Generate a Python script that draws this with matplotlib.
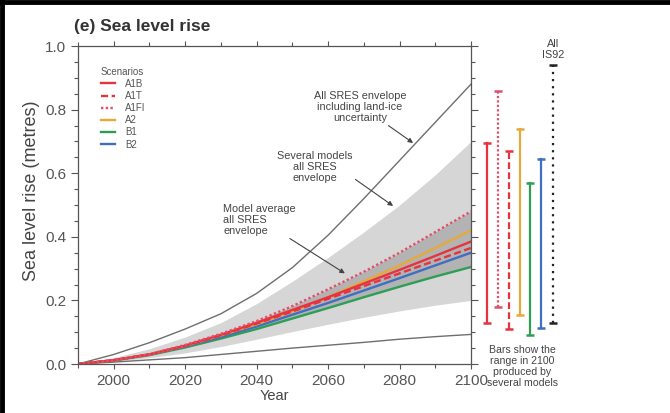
import matplotlib
matplotlib.use("Agg")
import matplotlib.pyplot as plt
from matplotlib.lines import Line2D

plt.rcParams['font.family'] = ['Liberation Sans', 'DejaVu Sans']

# decade years
years = [1990, 2000, 2010, 2020, 2030, 2040, 2050, 2060, 2070, 2080, 2090, 2100]

# envelopes (metres)
landice_hi = [0, 0.03, 0.067, 0.11, 0.158, 0.222, 0.303, 0.405, 0.52, 0.64, 0.76, 0.88]
landice_lo = [0, 0.006, 0.013, 0.02, 0.03, 0.04, 0.05, 0.059, 0.068, 0.078, 0.086, 0.093]
several_hi = [0, 0.02, 0.048, 0.085, 0.13, 0.19, 0.26, 0.335, 0.415, 0.50, 0.595, 0.70]
several_lo = [0, 0.008, 0.02, 0.035, 0.055, 0.078, 0.102, 0.125, 0.147, 0.167, 0.185, 0.20]

# scenario model averages
scen_names = ['A1B', 'A1T', 'A1FI', 'A2', 'B1', 'B2']
A1B = [0, 0.012, 0.03, 0.058, 0.092, 0.13, 0.17, 0.21, 0.253, 0.296, 0.34, 0.385]
A1T = [0, 0.012, 0.03, 0.057, 0.09, 0.127, 0.165, 0.205, 0.245, 0.285, 0.325, 0.365]
A1FI = [0, 0.012, 0.031, 0.06, 0.095, 0.135, 0.182, 0.235, 0.29, 0.35, 0.415, 0.48]
A2 = [0, 0.012, 0.03, 0.057, 0.09, 0.125, 0.165, 0.21, 0.26, 0.31, 0.365, 0.42]
B1 = [0, 0.011, 0.028, 0.052, 0.08, 0.11, 0.143, 0.176, 0.21, 0.243, 0.275, 0.305]
B2 = [0, 0.012, 0.03, 0.055, 0.085, 0.118, 0.155, 0.192, 0.231, 0.27, 0.31, 0.35]

# ranges in 2100 (several models)
bar_names = ['A1B', 'A1FI', 'A1T', 'A2', 'B1', 'B2', 'IS92']
bar_lo = [0.13, 0.18, 0.11, 0.155, 0.09, 0.113, 0.13]
bar_hi = [0.695, 0.86, 0.67, 0.74, 0.57, 0.645, 0.94]

red = '#e8323e'
cols = {'A1B': red, 'A1T': red, 'A1FI': '#e0506a', 'A2': '#e6a93a',
        'B1': '#2f9e55', 'B2': '#3e6fc2', 'IS92': '#222222'}
styles = {'A1B': '-', 'A1T': (0, (3, 1.5)), 'A1FI': (0, (1, 1)), 'A2': '-',
          'B1': '-', 'B2': '-', 'IS92': (0, (1, 2.2))}

fig = plt.figure(figsize=(6.7, 4.13), dpi=100)
ax = fig.add_axes([78/670, 1-364/413, 393/670, 318/413])

ax.fill_between(years, several_lo, several_hi, color='#d6d6d6', lw=0)
ax.fill_between(years, B1, A1FI, color='#b3b3b3', lw=0)
ax.plot(years, landice_hi, color='#6e6e6e', lw=1.0)
ax.plot(years, landice_lo, color='#6e6e6e', lw=1.0)

series = {'A1B': A1B, 'A1T': A1T, 'A1FI': A1FI, 'A2': A2, 'B1': B1, 'B2': B2}
for name in ['B1', 'B2', 'A2', 'A1T', 'A1B', 'A1FI']:
    ax.plot(years, series[name], color=cols[name], ls=styles[name], lw=1.7)

ax.set_xlim(1990, 2100)
ax.set_ylim(0, 1.0)
ax.set_xticks(range(2000, 2101, 20))
ax.set_xticks(range(1990, 2101, 10), minor=True)
ax.set_yticks([0, 0.2, 0.4, 0.6, 0.8, 1.0])
ax.set_yticklabels(['0.0', '0.2', '0.4', '0.6', '0.8', '1.0'])
ax.set_yticks([i * 0.05 for i in range(21)], minor=True)
ax.tick_params(which='both', direction='out', top=True, right=True,
               colors='#555555', labelsize=11, width=0.8)
ax.tick_params(which='major', length=5)
ax.tick_params(which='minor', length=3)
ax.tick_params(axis='x', which='major', length=3.5)
for s in ax.spines.values():
    s.set_color('#555555')
    s.set_linewidth(0.9)

ax.set_xlabel('Year', fontsize=10.5, color='#444444', labelpad=1)
fig.text(32/670, 1-191/413, 'Sea level rise (metres)', rotation=90,
         ha='center', va='center', fontsize=13, color='#444444')
fig.text(74/670, 1-27/413, '(e) Sea level rise', fontsize=12.5,
         fontweight='bold', color='#333333', va='center')

# legend
handles = [Line2D([], [], color=cols[n], ls=styles[n], lw=1.7) for n in scen_names]
leg = ax.legend(handles, scen_names, title='Scenarios', loc='upper left',
                bbox_to_anchor=(0.045, 0.95), frameon=False, fontsize=7,
                title_fontsize=7, handlelength=1.5, handletextpad=1.0,
                labelspacing=0.22, borderpad=0, alignment='left')
for t in leg.get_texts():
    t.set_color('#555555')
leg.get_title().set_color('#555555')

# annotations
tk = dict(fontsize=7.8, color='#444444', linespacing=1.1)
arr = dict(arrowstyle='-|>', color='#444444', lw=0.8, mutation_scale=7,
           shrinkA=0, shrinkB=0)
ax.annotate('All SRES envelope\nincluding land-ice\nuncertainty',
            xy=(2083.8, 0.695), xytext=(2068.9, 0.808), ha='center',
            va='center', arrowprops=dict(arr, relpos=(0.68, 0.18)), **tk)
ax.annotate('Several models\nall SRES\nenvelope',
            xy=(2078.2, 0.497), xytext=(2056.3, 0.62), ha='center',
            va='center', arrowprops=dict(arr, relpos=(0.8, 0.5)), **tk)
ax.annotate('Model average\nall SRES\nenvelope',
            xy=(2064.7, 0.285), xytext=(2030.6, 0.453), ha='left',
            va='center', arrowprops=dict(arr, relpos=(0.66, 0.29)), **tk)

# bars on the right
ytr = ax.get_yaxis_transform()
bar_x = [1.041 + 0.0275 * i for i in range(6)] + [1.209]
for x, n, lo, hi in zip(bar_x, bar_names, bar_lo, bar_hi):
    ax.plot([x, x], [lo, hi], color=cols[n], ls=styles[n], lw=1.6,
            transform=ytr, clip_on=False)
    ax.plot([x, x], [lo, hi], color=cols[n], ls='none', marker='_', ms=6,
            mew=1.8, transform=ytr, clip_on=False)

ax.text(1.209, 0.955, 'All\nIS92', transform=ytr, ha='center', va='bottom',
        fontsize=7.8, color='#444444', linespacing=1.15)
ax.text(1.13, 0.06, 'Bars show the\nrange in 2100\nproduced by\nseveral models',
        transform=ytr, ha='center', va='top', fontsize=7.6, color='#444444',
        linespacing=1.12)

# frame of the figure (top and left edges)
fig.add_artist(Line2D([0, 1], [0.995, 0.995], color='black', lw=3.5,
                      transform=fig.transFigure))
fig.add_artist(Line2D([0.003, 0.003], [0, 1], color='black', lw=3.5,
                      transform=fig.transFigure))

fig.savefig('out.png', dpi=100)
